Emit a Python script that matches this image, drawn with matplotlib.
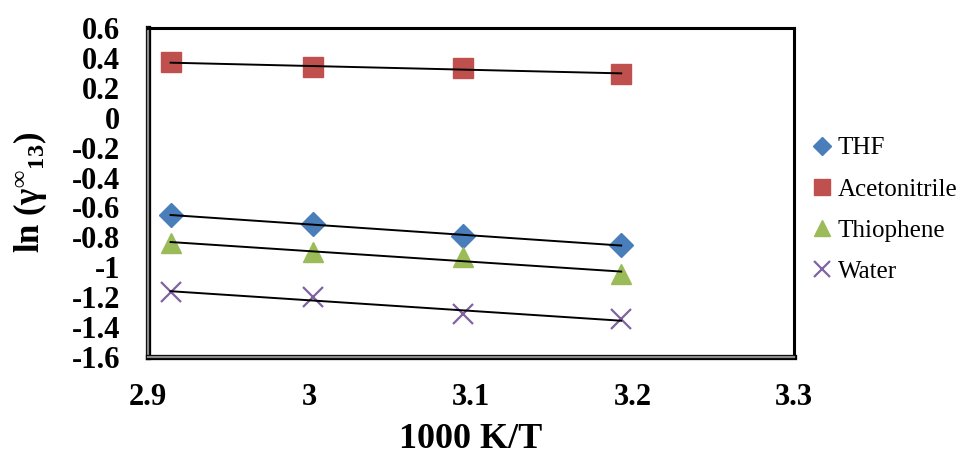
import numpy as np
import matplotlib
matplotlib.use("Agg")
import matplotlib.pyplot as plt
import matplotlib.patheffects as pe

# Inverse temperature, 1000 K/T
inv_T = [2.914, 3.002, 3.095, 3.193]

# ln(gamma_inf_13) for each solute
series_names = ["THF", "Acetonitrile", "Thiophene", "Water"]
thf = [-0.651, -0.711, -0.789, -0.852]
acetonitrile = [0.371, 0.337, 0.330, 0.294]
thiophene = [-0.840, -0.896, -0.930, -1.047]
water = [-1.168, -1.197, -1.315, -1.348]

x_ticks = [2.9, 3.0, 3.1, 3.2, 3.3]
x_tick_labels = ["2.9", "3", "3.1", "3.2", "3.3"]
y_ticks = [0.6, 0.4, 0.2, 0.0, -0.2, -0.4, -0.6, -0.8, -1.0, -1.2, -1.4, -1.6]
y_tick_labels = ["0.6", "0.4", "0.2", "0", "-0.2", "-0.4", "-0.6", "-0.8",
                 "-1", "-1.2", "-1.4", "-1.6"]

plt.rcParams["font.family"] = ["Liberation Serif", "DejaVu Serif"]
plt.rcParams["mathtext.fontset"] = "custom"
plt.rcParams["mathtext.rm"] = "Liberation Serif"
plt.rcParams["mathtext.bf"] = "Liberation Serif:bold"
plt.rcParams["mathtext.it"] = "Liberation Serif:italic"

fig = plt.figure(figsize=(9.67, 4.57), dpi=100)
ax = fig.add_axes([148 / 967, 1 - 357 / 457, (794 - 148) / 967, (357 - 28) / 457])

styles = [
    dict(marker="D", color="#4A7EBB", ms=11.8, mec="#4A7EBB"),
    dict(marker="s", color="#C0504D", ms=14.4, mec="#C0504D"),
    dict(marker="^", color="#9BBB59", ms=14.4, mec="#9BBB59"),
    dict(marker="x", color="#8064A2", ms=14.0, mew=1.6),
]
data = [thf, acetonitrile, thiophene, water]

x = np.array(inv_T)
for name, y, st in zip(series_names, data, styles):
    y = np.array(y)
    # linear trend line over the measured range
    k, b = np.polyfit(x, y, 1)
    ax.plot([x[0], x[-1]], [k * x[0] + b, k * x[-1] + b], color="black",
            lw=1.4, zorder=3)
    ax.plot(x, y, linestyle="none", label=name, zorder=2, **st)

ax.set_xlim(2.9, 3.3)
ax.set_ylim(-1.6, 0.6)
ax.set_xticks(x_ticks)
ax.set_xticklabels(x_tick_labels)
ax.set_yticks(y_ticks)
ax.set_yticklabels(y_tick_labels)
ax.tick_params(axis="both", length=0, labelsize=22)
ax.tick_params(axis="y", pad=20)
ax.tick_params(axis="x", pad=19)
for lab in ax.get_xticklabels() + ax.get_yticklabels():
    lab.set_fontweight("bold")

for side in ("top", "right"):
    ax.spines[side].set_color("black")
    ax.spines[side].set_linewidth(2.2)
for side in ("left", "bottom"):
    ax.spines[side].set_color("#8c8c8c")
    ax.spines[side].set_linewidth(1.6)
    ax.spines[side].set_path_effects(
        [pe.Stroke(linewidth=3.8, foreground="black"), pe.Normal()])

ax.set_xlabel("1000 K/T", fontsize=26, fontweight="bold", labelpad=8)
ax.set_ylabel(r"$\mathbf{ln\ (γ^{∞}{}_{13})}$", fontsize=25, va="center")
ax.yaxis.set_label_coords((30 - 148) / 646, 0.5)

leg = ax.legend(loc="center left", bbox_to_anchor=(813 / 967, 1 - 210 / 457),
                bbox_transform=fig.transFigure, frameon=False, fontsize=18,
                handlelength=0.7, handletextpad=0.3, labelspacing=0.75,
                borderpad=0, borderaxespad=0, numpoints=1, markerscale=0.8)

fig.savefig("out.png", dpi=100)
